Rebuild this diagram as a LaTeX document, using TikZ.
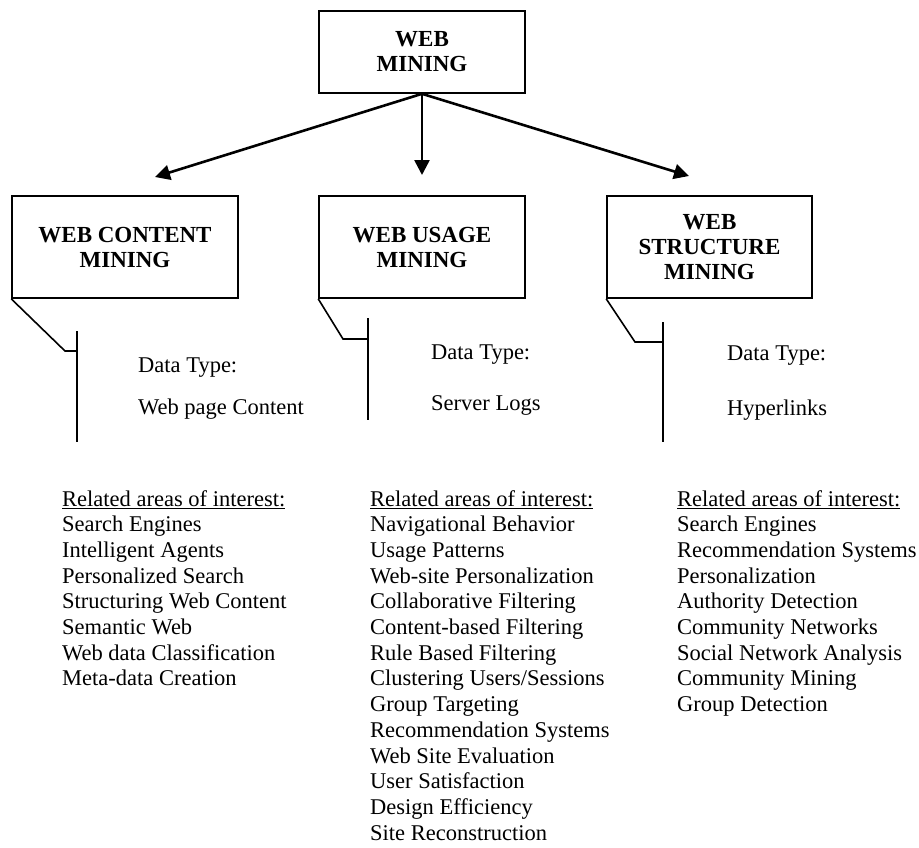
\documentclass[tikz,border=0pt]{standalone}
\usepackage{fontspec}
\setmainfont{Liberation Serif}
\usetikzlibrary{arrows.meta}

% underlined list heading with a firm rule
\newcommand\areahead[1]{\setbox0\hbox{#1}\rlap{\rule[-3.2pt]{\wd0}{1.5pt}}\box0}

\begin{document}
\begin{tikzpicture}[x=1pt,y=-1pt,
  mainbox/.style={draw,line width=1.6pt,minimum width=206pt,inner sep=0pt,
    align=center,font=\fontsize{23}{25}\selectfont\bfseries},
  branch/.style={line width=2.6pt,-{Triangle[length=15pt,width=15pt]}},
  callout/.style={line width=1.6pt},
  datatxt/.style={anchor=base west,inner sep=0pt,font=\fontsize{22.5}{26}\selectfont},
  arealist/.style={anchor=north west,inner sep=0pt,align=left,
    font=\fontsize{22.5}{25.7}\selectfont}]
\useasboundingbox (0,0) rectangle (919,847);

% root and the three kinds of mining
\node[mainbox,minimum height=82pt] (root) at (422,52) {WEB\\MINING};
\node[mainbox,minimum height=102pt,minimum width=226pt] (content) at (125,247) {WEB CONTENT\\MINING};
\node[mainbox,minimum height=102pt] (usage) at (422,247) {WEB USAGE\\MINING};
\node[mainbox,minimum height=102pt,minimum width=205pt] (structure) at (709.5,247) {WEB\\STRUCTURE\\MINING};

% arrow ends above the boxes
\coordinate (tc) at (155,177);
\coordinate (tu) at (422,175);
\coordinate (ts) at (689,176);
\draw[branch] (root.south) -- (tc);
\draw[branch] (root.south) -- (tu);
\draw[branch] (root.south) -- (ts);

% callout brackets
\coordinate (kc) at (65,351);  \coordinate (jc) at (77,351);
\coordinate (ac) at (77,331);  \coordinate (bc) at (77,442);
\draw[callout] (content.south west) -- (kc) -- (jc);
\draw[callout] (ac) -- (bc);

\coordinate (ku) at (343,339); \coordinate (ju) at (368,339);
\coordinate (au) at (368,318); \coordinate (bu) at (368,420);
\draw[callout] (usage.south west) -- (ku) -- (ju);
\draw[callout] (au) -- (bu);

\coordinate (ks) at (635,342); \coordinate (js) at (663,342);
\coordinate (as) at (663,322); \coordinate (bs) at (663,442);
\draw[callout] (structure.south west) -- (ks) -- (js);
\draw[callout] (as) -- (bs);

% data types
\node[datatxt] (dtc) at (138,372) {Data Type:};
\node[datatxt] (dvc) at (138,414) {Web page Content};
\node[datatxt] (dtu) at (431,359) {Data Type:};
\node[datatxt] (dvu) at (431,410) {Server Logs};
\node[datatxt] (dts) at (727,360) {Data Type:};
\node[datatxt] (dvs) at (727,415) {Hyperlinks};

% related areas of interest
\node[arealist] (lc) at (62,490) {\areahead{Related areas of interest:}\\
Search Engines\\Intelligent Agents\\Personalized Search\\Structuring Web Content\\
Semantic Web\\Web data Classification\\Meta-data Creation};
\node[arealist] (lu) at (370,490) {\areahead{Related areas of interest:}\\
Navigational Behavior\\Usage Patterns\\Web-site Personalization\\Collaborative Filtering\\
Content-based Filtering\\Rule Based Filtering\\Clustering Users/Sessions\\Group Targeting\\
Recommendation Systems\\Web Site Evaluation\\User Satisfaction\\Design Efficiency\\
Site Reconstruction};
\node[arealist] (ls) at (677,490) {\areahead{Related areas of interest:}\\
Search Engines\\Recommendation Systems\\Personalization\\Authority Detection\\
Community Networks\\Social Network Analysis\\Community Mining\\Group Detection};
\end{tikzpicture}
\end{document}
